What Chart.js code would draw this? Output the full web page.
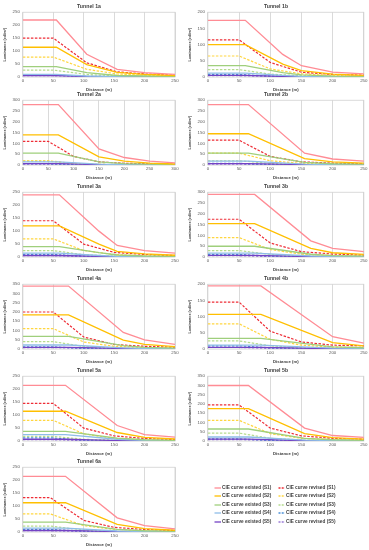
<!DOCTYPE html>
<html>
<head>
<meta charset="utf-8">
<script src="https://cdn.jsdelivr.net/npm/chart.js@4.4.1/dist/chart.umd.min.js"></script>
<style>
  body { margin: 0; background: #fff; width: 369px; height: 550px; position: relative; overflow: hidden;
         font-family: "Liberation Sans", Arial, sans-serif; }
  canvas.panel { position: absolute; }
  .leg { position: absolute; font-size: 4.7px; font-weight: bold; color: #404040; white-space: nowrap; line-height: 6px; }
  .leg svg { position: absolute; left: -8px; top: 0; }
</style>
</head>
<body>
<script>
const seriesNames = ["S1", "S2", "S3", "S4", "S5"];
const existedColors = ["#ff8c95", "#ffbf00", "#9fcf7c", "#8ebde8", "#7443c4"];
const revisedColors = ["#ee2d36", "#ffd640", "#b5dc8e", "#4a90d9", "#9a7ad6"];

// Tunnel 1a
const t1aExistedX = [0, 55, 105, 155, 200, 250];
const t1aExisted = [[220, 220, 88, 30, 17, 10], [115, 115, 48, 18, 10, 6], [40, 40, 17, 6, 4, 2], [10, 10, 4, 2, 1, 1], [6, 6, 2, 1, 0.5, 0.3]];
const t1aRevisedX = [0, 50, 105, 155, 200, 250];
const t1aRevised = [[150, 150, 55, 20, 12, 7], [77, 77, 30, 12, 7, 4], [27, 27, 10, 4, 3, 2], [8, 8, 3, 1.5, 1, 0.5], [5, 5, 2, 1, 0.5, 0.3]];

// Tunnel 1b
const t1bExistedX = [0, 60, 120, 150, 200, 250];
const t1bExisted = [[175, 175, 70, 35, 15, 10], [100, 100, 40, 20, 9, 5], [35, 35, 14, 7, 3, 2], [12, 12, 5, 2, 1, 1], [5, 5, 2, 1, 0.5, 0.3]];
const t1bRevisedX = [0, 50, 100, 150, 200, 250];
const t1bRevised = [[115, 115, 45, 15, 8, 6], [65, 65, 25, 10, 5, 3], [23, 23, 9, 4, 2, 1], [8, 8, 3, 1.5, 1, 0.5], [4, 4, 2, 1, 0.5, 0.3]];

// Tunnel 2a
const t2aExistedX = [0, 70, 150, 200, 250, 300];
const t2aExisted = [[280, 280, 75, 35, 18, 10], [140, 140, 38, 18, 9, 5], [55, 55, 15, 7, 4, 2], [15, 15, 4, 2, 1, 1], [7, 7, 2, 1, 0.5, 0.3]];
const t2aRevisedX = [0, 50, 100, 150, 200, 300];
const t2aRevised = [[110, 110, 40, 15, 8, 4], [20, 20, 8, 3, 2, 1], [18, 18, 7, 3, 2, 1], [6, 6, 3, 1, 1, 0.5], [4, 4, 2, 1, 0.5, 0.3]];

// Tunnel 2b
const t2bExistedX = [0, 65, 155, 200, 250];
const t2bExisted = [[280, 280, 55, 28, 18], [145, 145, 30, 15, 9], [55, 55, 12, 6, 4], [18, 18, 4, 2, 1], [7, 7, 2, 1, 0.5]];
const t2bRevisedX = [0, 50, 100, 150, 200, 250];
const t2bRevised = [[115, 115, 40, 15, 9, 6], [55, 55, 20, 8, 4, 3], [20, 20, 8, 3, 2, 1], [8, 8, 3, 1, 1, 0.5], [4, 4, 2, 1, 0.5, 0.3]];

// Tunnel 3a
const t3aExistedX = [0, 60, 125, 155, 200, 250];
const t3aExisted = [[240, 240, 100, 45, 25, 15], [120, 120, 50, 22, 12, 7], [40, 40, 17, 8, 4, 3], [15, 15, 6, 3, 2, 1], [6, 6, 3, 1, 1, 0.5]];
const t3aRevisedX = [0, 50, 100, 150, 200, 250];
const t3aRevised = [[140, 140, 50, 18, 10, 6], [70, 70, 25, 10, 5, 3], [25, 25, 9, 4, 2, 1], [10, 10, 4, 2, 1, 0.5], [5, 5, 2, 1, 0.5, 0.3]];

// Tunnel 3b
const t3bExistedX = [0, 75, 165, 200, 250];
const t3bExisted = [[290, 290, 75, 40, 25], [155, 155, 40, 20, 12], [50, 50, 13, 7, 4], [18, 18, 5, 3, 2], [8, 8, 2, 1, 1]];
const t3bRevisedX = [0, 50, 100, 150, 200, 250];
const t3bRevised = [[175, 175, 65, 25, 14, 9], [90, 90, 35, 13, 7, 5], [30, 30, 12, 5, 3, 2], [12, 12, 5, 2, 1, 1], [6, 6, 2, 1, 0.5, 0.3]];

// Tunnel 4a
const t4aExistedX = [0, 75, 165, 200, 250];
const t4aExisted = [[340, 340, 90, 50, 25], [185, 185, 48, 25, 13], [68, 68, 18, 9, 5], [22, 22, 6, 3, 2], [9, 9, 3, 1, 1]];
const t4aRevisedX = [0, 50, 100, 150, 200, 250];
const t4aRevised = [[200, 200, 65, 25, 15, 10], [110, 110, 38, 15, 8, 5], [40, 40, 14, 5, 3, 2], [12, 12, 4, 2, 1, 1], [8, 8, 3, 1, 0.5, 0.3]];

// Tunnel 4b
const t4bExistedX = [0, 85, 200, 250];
const t4bExisted = [[195, 195, 38, 18], [107, 107, 20, 10], [33, 33, 7, 4], [12, 12, 3, 2], [5, 5, 1, 1]];
const t4bRevisedX = [0, 50, 100, 150, 200, 250];
const t4bRevised = [[145, 145, 55, 22, 12, 10], [78, 78, 30, 12, 6, 5], [25, 25, 10, 4, 2, 1], [10, 10, 4, 2, 1, 1], [5, 5, 2, 1, 0.5, 0.3]];

// Tunnel 5a
const t5aExistedX = [0, 70, 155, 200, 250];
const t5aExisted = [[215, 215, 60, 25, 15], [115, 115, 33, 14, 8], [37, 37, 11, 5, 3], [25, 25, 7, 3, 2], [7, 7, 2, 1, 0.5]];
const t5aRevisedX = [0, 50, 100, 150, 200, 250];
const t5aRevised = [[145, 145, 50, 20, 10, 6], [80, 80, 28, 10, 5, 3], [18, 18, 7, 3, 2, 1], [12, 12, 4, 2, 1, 0.5], [5, 5, 2, 1, 0.5, 0.3]];

// Tunnel 5b
const t5bExistedX = [0, 65, 155, 200, 250];
const t5bExisted = [[300, 300, 70, 30, 20], [175, 175, 40, 18, 10], [65, 65, 15, 7, 4], [22, 22, 5, 3, 2], [10, 10, 2, 1, 1]];
const t5bRevisedX = [0, 50, 100, 150, 200, 250];
const t5bRevised = [[195, 195, 70, 28, 15, 10], [112, 112, 40, 15, 8, 5], [43, 43, 15, 6, 3, 2], [12, 12, 4, 2, 1, 1], [8, 8, 3, 1, 0.5, 0.3]];

// Tunnel 6a
const t6aExistedX = [0, 70, 155, 200, 250];
const t6aExisted = [[215, 215, 55, 25, 12], [113, 113, 30, 13, 7], [38, 38, 10, 5, 3], [15, 15, 4, 2, 1], [6, 6, 2, 1, 0.5]];
const t6aRevisedX = [0, 45, 100, 150, 200, 250];
const t6aRevised = [[133, 133, 45, 18, 10, 6], [70, 70, 25, 10, 5, 3], [23, 23, 8, 3, 2, 1], [10, 10, 4, 2, 1, 0.5], [5, 5, 2, 1, 0.5, 0.3]];

const panels = [
  { title: "Tunnel 1a", col: 0, row: 0, yMax: 250, xMax: 250, exX: t1aExistedX, ex: t1aExisted, revX: t1aRevisedX, rev: t1aRevised },
  { title: "Tunnel 1b", col: 1, row: 0, yMax: 200, xMax: 250, exX: t1bExistedX, ex: t1bExisted, revX: t1bRevisedX, rev: t1bRevised },
  { title: "Tunnel 2a", col: 0, row: 1, yMax: 300, xMax: 300, exX: t2aExistedX, ex: t2aExisted, revX: t2aRevisedX, rev: t2aRevised },
  { title: "Tunnel 2b", col: 1, row: 1, yMax: 300, xMax: 250, exX: t2bExistedX, ex: t2bExisted, revX: t2bRevisedX, rev: t2bRevised },
  { title: "Tunnel 3a", col: 0, row: 2, yMax: 250, xMax: 250, exX: t3aExistedX, ex: t3aExisted, revX: t3aRevisedX, rev: t3aRevised },
  { title: "Tunnel 3b", col: 1, row: 2, yMax: 300, xMax: 250, exX: t3bExistedX, ex: t3bExisted, revX: t3bRevisedX, rev: t3bRevised },
  { title: "Tunnel 4a", col: 0, row: 3, yMax: 350, xMax: 250, exX: t4aExistedX, ex: t4aExisted, revX: t4aRevisedX, rev: t4aRevised },
  { title: "Tunnel 4b", col: 1, row: 3, yMax: 200, xMax: 250, exX: t4bExistedX, ex: t4bExisted, revX: t4bRevisedX, rev: t4bRevised },
  { title: "Tunnel 5a", col: 0, row: 4, yMax: 250, xMax: 250, exX: t5aExistedX, ex: t5aExisted, revX: t5aRevisedX, rev: t5aRevised },
  { title: "Tunnel 5b", col: 1, row: 4, yMax: 350, xMax: 250, exX: t5bExistedX, ex: t5bExisted, revX: t5bRevisedX, rev: t5bRevised },
  { title: "Tunnel 6a", col: 0, row: 5, yMax: 250, xMax: 250, exX: t6aExistedX, ex: t6aExisted, revX: t6aRevisedX, rev: t6aRevised },
];

const rowTops = [0, 88, 180, 272, 364, 455];
const colLefts = [0, 185];
const gridColor = "#d0d0d0";
const tickColor = "#595959";

const boxPlugin = {
  id: "plotBox",
  beforeDatasetsDraw(chart) {
    const { ctx, chartArea: a } = chart;
    ctx.save();
    ctx.strokeStyle = gridColor;
    ctx.lineWidth = 0.8;
    ctx.strokeRect(a.left, a.top, a.right - a.left, a.bottom - a.top);
    ctx.restore();
  },
};

function toPoints(xs, ys) {
  return xs.map((x, i) => ({ x, y: ys[i] }));
}

function createPanel(p) {
  const canvas = document.createElement("canvas");
  canvas.className = "panel";
  canvas.width = 184;
  canvas.height = 93;
  canvas.style.left = colLefts[p.col] + "px";
  canvas.style.top = rowTops[p.row] + "px";
  document.body.appendChild(canvas);

  const datasets = [];
  p.ex.forEach((ys, i) => {
    datasets.push({
      label: `CIE curve existed (${seriesNames[i]})`,
      data: toPoints(p.exX, ys),
      borderColor: existedColors[i],
      borderWidth: 1.3,
      pointRadius: 0,
      tension: 0,
    });
  });
  p.rev.forEach((ys, i) => {
    datasets.push({
      label: `CIE curve revised (${seriesNames[i]})`,
      data: toPoints(p.revX, ys),
      borderColor: revisedColors[i],
      borderWidth: 1.2,
      borderDash: [2.5, 1.5],
      pointRadius: 0,
      tension: 0,
    });
  });

  new Chart(canvas.getContext("2d"), {
    type: "line",
    data: { datasets },
    plugins: [boxPlugin],
    options: {
      animation: false,
      responsive: false,
      devicePixelRatio: 1,
      layout: { padding: { top: 2, right: p.col === 0 ? 9 : 5, left: 3, bottom: 1 } },
      scales: {
        x: {
          type: "linear",
          min: 0,
          max: p.xMax,
          ticks: { stepSize: 50, color: tickColor, font: { size: 4.4, family: "Liberation Sans" }, padding: 1.5, maxRotation: 0, callback: (v) => String(v) },
          grid: { color: gridColor, lineWidth: 0.8, drawTicks: false },
          border: { display: false },
          title: { display: true, text: "Distance (m)", color: "#404040", font: { size: 4.3, weight: "bold", family: "Liberation Sans" }, padding: { top: 1.5, bottom: 0 } },
        },
        y: {
          min: 0,
          max: p.yMax,
          ticks: { stepSize: 50, color: tickColor, font: { size: 4.4, family: "Liberation Sans" }, padding: 3, callback: (v) => String(v) },
          grid: { display: false, drawTicks: false },
          border: { display: false },
          title: { display: true, text: "Luminance (cd/m²)", color: "#404040", font: { size: 3.8, weight: "bold", family: "Liberation Sans" }, padding: { top: 0, bottom: 2 } },
        },
      },
      plugins: {
        legend: { display: false },
        tooltip: { enabled: false },
        title: {
          display: true,
          text: p.title,
          color: "#404040",
          font: { size: 5.2, weight: "bold", family: "Liberation Sans" },
          padding: { top: 1, bottom: 3 },
        },
      },
    },
  });
}

panels.forEach(createPanel);

// legend
const legendCols = [222, 286];
const legendRows = [484.5, 493, 501.5, 510, 518.5];
seriesNames.forEach((s, i) => {
  [0, 1].forEach((c) => {
    const div = document.createElement("div");
    div.className = "leg";
    div.style.left = legendCols[c] + "px";
    div.style.top = legendRows[i] + "px";
    const color = c === 0 ? existedColors[i] : revisedColors[i];
    const dash = c === 0 ? "" : ' stroke-dasharray="2,1.2"';
    div.innerHTML = `<svg width="8" height="6"><line x1="0.5" y1="3" x2="7" y2="3" stroke="${color}" stroke-width="1.3"${dash}/></svg>` +
      `CIE curve ${c === 0 ? "existed" : "revised"} (${s})`;
    document.body.appendChild(div);
  });
});
</script>
</body>
</html>
